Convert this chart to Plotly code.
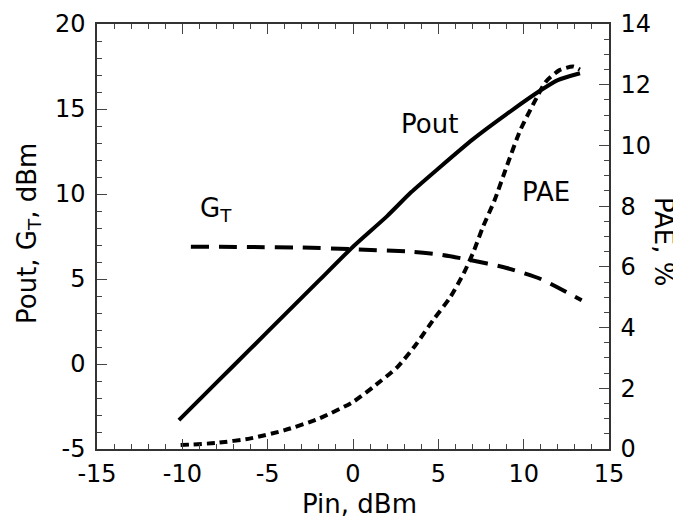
import plotly.graph_objects as go

# Pout (left axis, dBm) vs Pin
pout_x = [-10.2, -8, -6, -4, -2, 0, 2, 3.4, 5, 7, 9, 11, 12, 13.3]
pout_y = [-3.3, -1.1, 0.9, 2.9, 4.9, 6.9, 8.7, 10.1, 11.5, 13.2, 14.7, 16.1, 16.7, 17.1]

# Transducer gain G_T (left axis, dB)
gt_x = [-9.5, -6, -3, 0, 3.5, 5, 6.7, 9, 11, 12, 13.4]
gt_y = [6.9, 6.88, 6.85, 6.75, 6.6, 6.45, 6.15, 5.65, 5.0, 4.5, 3.75]

# PAE (right axis, %)
pae_x = [-10.1, -8, -6, -4, -2, 0, 1.2, 2.6, 3.7, 4.7, 5.7, 6.5, 7.1, 7.6, 8.3, 9, 9.8, 10.6, 11.3, 12.1, 12.9, 13.3]
pae_y = [0.13, 0.2, 0.35, 0.62, 1.0, 1.55, 2.05, 2.7, 3.45, 4.25, 5.0, 5.8, 6.55, 7.3, 8.2, 9.3, 10.5, 11.4, 12.1, 12.48, 12.6, 12.5]

# tick labels
x_ticks = [-15, -10, -5, 0, 5, 10, 15]
x_ticktext = ["-15", "-10", "-5", "0", "5", "10", "15"]
yl_ticks = [-5, 0, 5, 10, 15, 20]
yl_ticktext = ["-5", "0", "5", "10", "15", "20"]
yr_ticks = [0, 2, 4, 6, 8, 10, 12, 14]
yr_ticktext = ["0", "2", "4", "6", "8", "10", "12", "14"]

FONT = "DejaVu Sans, sans-serif"
TICK = 24
LBL = 26

OFF = 8  # page body margin
W, H = 681 - OFF, 521 - OFF
L, R, T, B = 97 - OFF, 72, 24 - OFF, 72
PW, PH = W - L - R, H - T - B


def px(xp):
    return (xp - OFF - L) / PW


def py(yp):
    return (H - B - (yp - OFF)) / PH


minor_style = dict(ticks="inside", ticklen=5, tickcolor="#444", tickwidth=1.2)
axis_common = dict(
    showgrid=False, zeroline=False, showline=True, linecolor="#333", linewidth=1.5,
    ticks="inside", ticklen=10, tickwidth=1.2, tickcolor="#444", automargin=False,
    tickfont=dict(family=FONT, size=TICK, color="black"),
)

fig = go.Figure()
fig.add_trace(go.Scatter(x=pout_x, y=pout_y, mode="lines",
                         line=dict(color="black", width=4, shape="spline", smoothing=0.6), showlegend=False))
fig.add_trace(go.Scatter(x=gt_x, y=gt_y, mode="lines",
                         line=dict(color="black", width=4, dash="18px,10px", shape="spline", smoothing=0.6), showlegend=False))
fig.add_trace(go.Scatter(x=pae_x, y=pae_y, mode="lines", yaxis="y2",
                         line=dict(color="black", width=4, dash="8px,5px", shape="spline", smoothing=0.6), showlegend=False))
# invisible trace to activate top axis
fig.add_trace(go.Scatter(x=[pout_x[0]], y=[pout_y[0]], xaxis="x2", mode="markers",
                         marker=dict(opacity=0), showlegend=False, hoverinfo="skip"))

ann_c = dict(showarrow=False, xanchor="center", yanchor="middle")

fig.update_layout(
    width=W, height=H,
    margin=dict(l=L, r=R, t=T, b=B),
    paper_bgcolor="white", plot_bgcolor="white",
    font=dict(family=FONT, size=TICK, color="black"),
    xaxis=dict(range=[-15, 15], tickvals=x_ticks, ticktext=x_ticktext, ticklabelstandoff=2,
               minor=dict(dtick=1, **minor_style), **axis_common),
    xaxis2=dict(range=[-15, 15], tickvals=x_ticks, overlaying="x", side="top", anchor="y",
                showticklabels=False, minor=dict(dtick=1, **minor_style), **axis_common),
    yaxis=dict(range=[-5, 20], tickvals=yl_ticks, ticktext=yl_ticktext, ticklabelstandoff=5,
               minor=dict(dtick=1, **minor_style), **axis_common),
    yaxis2=dict(range=[0, 14], tickvals=yr_ticks, ticktext=yr_ticktext, ticklabelstandoff=5,
                overlaying="y", side="right",
                minor=dict(dtick=0.5, **minor_style), **axis_common),
    annotations=[
        dict(x=4.5, y=14.1, xref="x", yref="y", text="Pout",
             font=dict(family=FONT, size=LBL), **ann_c),
        dict(x=11.3, y=10.1, xref="x", yref="y", text="PAE",
             font=dict(family=FONT, size=LBL), **ann_c),
        dict(x=-8.0, y=9.1, xref="x", yref="y", text="G<sub>T</sub>",
             font=dict(family=FONT, size=LBL), **ann_c),
        dict(x=px(359), y=py(504), xref="paper", yref="paper", text="Pin, dBm",
             font=dict(family=FONT, size=LBL), **ann_c),
        dict(x=px(28), y=py(234), xref="paper", yref="paper", text="Pout, G<sub>T</sub>, dBm",
             textangle=-90, font=dict(family=FONT, size=LBL), **ann_c),
        dict(x=px(664), y=py(241), xref="paper", yref="paper", text="PAE, %",
             textangle=90, font=dict(family=FONT, size=LBL), **ann_c),
    ],
)

fig.write_html("out.html")
